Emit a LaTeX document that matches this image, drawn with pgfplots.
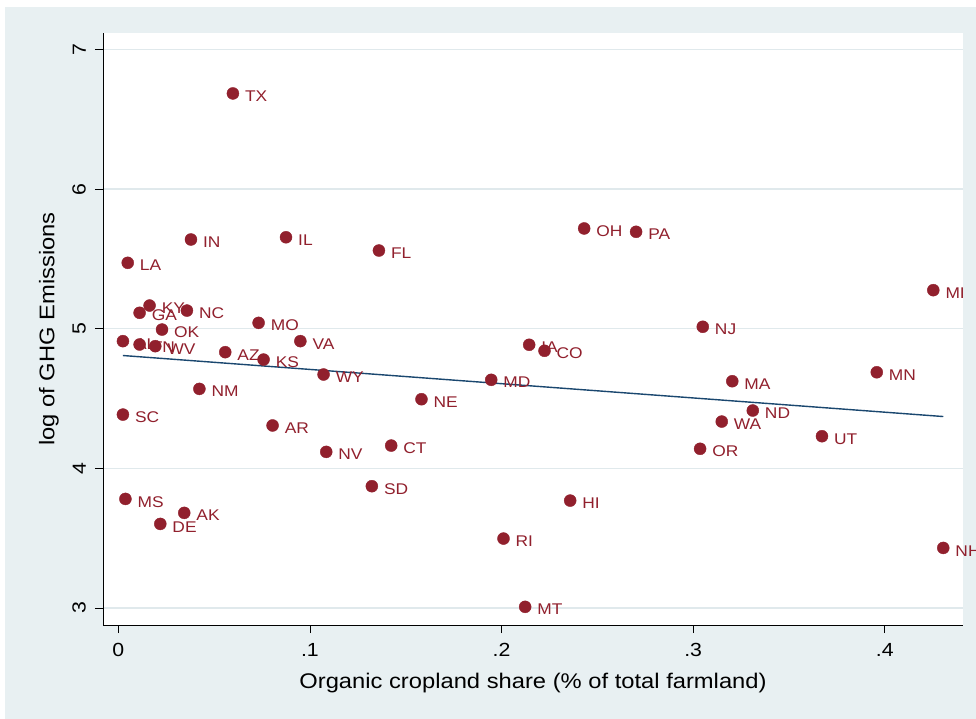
\documentclass[border=0pt]{standalone}
\usepackage{fontspec}
\setmainfont[FakeStretch=1.12]{Liberation Sans}
\usepackage{pgfplots}
\usepackage{pgfplotstable}
\pgfplotsset{compat=1.18}

\definecolor{bgc}{RGB}{232,240,242}
\definecolor{gridc}{RGB}{224,233,236}
\definecolor{dotred}{RGB}{145,32,45}
\definecolor{fitnavy}{RGB}{26,71,111}

% organic cropland share vs. log GHG emissions, by state
\pgfplotstableread{
x      y     lab
0.0598 6.685 TX
0.0379 5.639 IN
0.0875 5.655 IL
0.1360 5.560 FL
0.0049 5.472 LA
0.2431 5.718 OH
0.2702 5.694 PA
0.4253 5.276 MI
0.0163 5.166 KY
0.0111 5.114 GA
0.0358 5.130 NC
0.0228 4.994 OK
0.0732 5.042 MO
0.0950 4.911 VA
0.3050 5.014 NJ
0.0024 4.911 AL
0.0111 4.887 TN
0.0193 4.875 WV
0.0558 4.832 AZ
0.0758 4.779 KS
0.2144 4.885 IA
0.2224 4.842 CO
0.1071 4.672 WY
0.1946 4.634 MD
0.3958 4.688 MN
0.3204 4.624 MA
0.0423 4.569 NM
0.1582 4.495 NE
0.0024 4.385 SC
0.3311 4.414 ND
0.3149 4.335 WA
0.0805 4.307 AR
0.3672 4.230 UT
0.1424 4.163 CT
0.1085 4.118 NV
0.3036 4.140 OR
0.1323 3.872 SD
0.0037 3.781 MS
0.2358 3.769 HI
0.0344 3.681 AK
0.0219 3.602 DE
0.2010 3.497 RI
0.4305 3.430 NH
0.2123 3.008 MT
}\states

% fitted linear trend
\pgfplotstableread{
x      y
0.0024 4.808
0.4305 4.371
}\fitline

\begin{document}
\begin{tikzpicture}
\useasboundingbox[fill=white] (-103pt,-94pt) rectangle (873pt,625pt);
\fill[bgc] (-98pt,-94pt) rectangle (873pt,618pt);
\begin{axis}[
  at={(0pt,0pt)}, anchor=south west,
  scale only axis, width=860pt, height=592pt,
  xmin=-0.008, xmax=0.4408, ymin=2.878, ymax=7.118,
  clip=false,
  axis x line=bottom, axis y line=left,
  axis line style={-, black, line width=0.9pt},
  axis background/.style={fill=white},
  xtick={0,0.1,0.2,0.3,0.4}, xticklabels={0,.1,.2,.3,.4},
  ytick={3,4,5,6,7}, yticklabels={3,4,5,6,7},
  tick align=outside, major tick length=8pt,
  tick style={black, line width=0.9pt},
  ymajorgrids, major grid style={gridc, line width=1.3pt},
  ticklabel style={font=\fontsize{19}{21}\selectfont, inner sep=0pt},
  xticklabel style={anchor=north, yshift=-10pt},
  yticklabel style={xshift=-9pt, rotate=90, anchor=south},
  xlabel={Organic cropland share (\% of total farmland)},
  ylabel={log of GHG Emissions},
  every axis x label/.style={at={(axis description cs:0.5,-0.0980)}, anchor=center, font=\fontsize{21.2}{23}\selectfont},
  every axis y label/.style={at={(axis description cs:-0.0630,0.5)}, rotate=90, anchor=center, font=\fontsize{21.2}{23}\selectfont},
]
\addplot[only marks, mark=*, mark size=6pt,
  mark options={draw=dotred, fill=dotred},
  nodes near coords, point meta=explicit symbolic,
  every node near coord/.append style={anchor=west, xshift=12pt, yshift=-4.5pt,
    inner sep=0pt, text=dotred, font=\fontsize{15.5}{17}\selectfont,
    text height=0.72em, text depth=0pt}]
  table[x=x, y=y, meta=lab] {\states};
\addplot[fitnavy, line width=1.4pt, no marks] table[x=x, y=y] {\fitline};
\end{axis}
\end{tikzpicture}
\end{document}
